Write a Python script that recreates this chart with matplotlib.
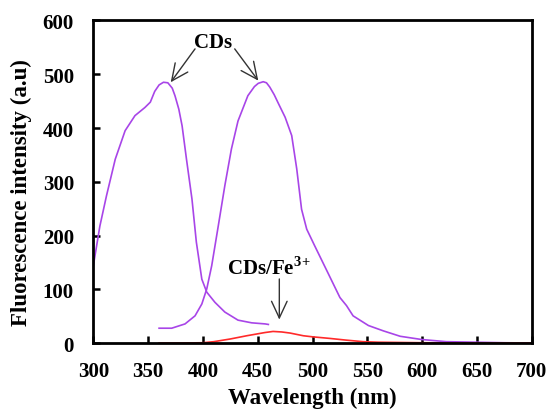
import numpy as np
import matplotlib.pyplot as plt

plt.rcParams['font.family'] = ['Liberation Serif', 'DejaVu Serif']
plt.rcParams['font.weight'] = 'bold'
plt.rcParams['mathtext.fontset'] = 'custom'
plt.rcParams['mathtext.bf'] = 'Liberation Serif:bold'
plt.rcParams['mathtext.rm'] = 'Liberation Serif:bold'

# excitation spectrum of CDs
ex_wl = [300, 306, 312, 320, 329, 338, 347, 352, 356, 360, 364, 368, 372, 374.5, 378, 381,
         385, 390, 394, 399, 403.5, 411, 420, 432, 444.5, 456.7, 459.7]
ex_int = [144, 218, 274, 342, 395, 423, 438, 448, 468, 480, 485, 484, 474, 460, 435, 404,
          342, 268, 188, 119, 95, 76, 58, 43, 38, 36, 35]

# emission spectrum of CDs
em_wl = [360, 371.5, 383.7, 392.8, 399, 403.5, 408, 414, 420, 426, 432, 441, 447, 450.5,
         455, 458, 461, 465, 469, 475, 481, 485.6, 490, 494.7, 502, 514, 525, 531, 537,
         551, 564.7, 580, 599.6, 622, 649, 675, 700]
em_int = [28, 28, 36, 51, 73, 101, 144, 218, 293, 361, 413, 460, 477, 483,
          486, 484, 476, 462, 445, 420, 386, 324, 249, 212, 181, 131, 85, 70, 51,
          33, 23, 13, 7, 3, 2, 1, 0.5]

# emission spectrum of CDs/Fe3+
fe_wl = [360, 380, 400, 410, 425, 440, 456.7, 464, 472, 479.5, 491.6, 500, 516, 530,
         546, 560, 600, 650, 700]
fe_int = [0.5, 0.5, 1, 3, 8, 14, 20, 22, 21, 19, 14, 12, 9, 6, 3, 2, 1, 0.5, 0.5]

fig = plt.figure(figsize=(5.48, 4.14), dpi=100)
ax = fig.add_axes([0.1703, 0.1684, 0.800, 0.780])

purple = '#A845E8'
ax.plot(ex_wl, ex_int, color=purple, lw=1.2)
ax.plot(em_wl, em_int, color=purple, lw=1.2)
ax.plot(fe_wl, fe_int, color='#FF2A2A', lw=1.2)

ax.set_xlim(300, 700)
ax.set_ylim(0, 600)
ax.set_xticks(np.arange(300, 701, 50))
ax.set_yticks(np.arange(0, 601, 100))
ax.tick_params(direction='in', length=5, width=1.8, labelsize=15)
ax.tick_params(axis='x', pad=13)
ax.tick_params(axis='y', pad=14)
for lab in ax.get_xticklabels() + ax.get_yticklabels():
    lab.set_fontweight('bold')
for sp in ax.spines.values():
    sp.set_linewidth(2)

ax.set_xlabel('Wavelength (nm)', fontsize=16.5, fontweight='bold')
ax.set_ylabel('Fluorescence intensity (a.u)', fontsize=16.5, fontweight='bold')
ax.xaxis.set_label_coords(0.499, -0.135)
ax.yaxis.set_label_coords(-0.1405, 0.47)

arrow = dict(arrowstyle='->,head_length=0.6,head_width=0.28', color='#333333',
             lw=1.0, mutation_scale=20, shrinkA=0, shrinkB=0)
ax.text(409.5, 559, 'CDs', fontsize=15, fontweight='bold', ha='center', va='center')
ax.annotate('', xy=(370.6, 485), xytext=(392.8, 547), arrowprops=arrow)
ax.annotate('', xy=(450.5, 488), xytext=(429, 547), arrowprops=arrow)

ax.text(460, 141, r'CDs/Fe$^{\mathbf{3\!+}}$', fontsize=15, fontweight='bold',
        ha='center', va='center')
ax.annotate('', xy=(469.7, 44), xytext=(469.7, 119.5), arrowprops=arrow)

fig.savefig('out.png', dpi=100)
